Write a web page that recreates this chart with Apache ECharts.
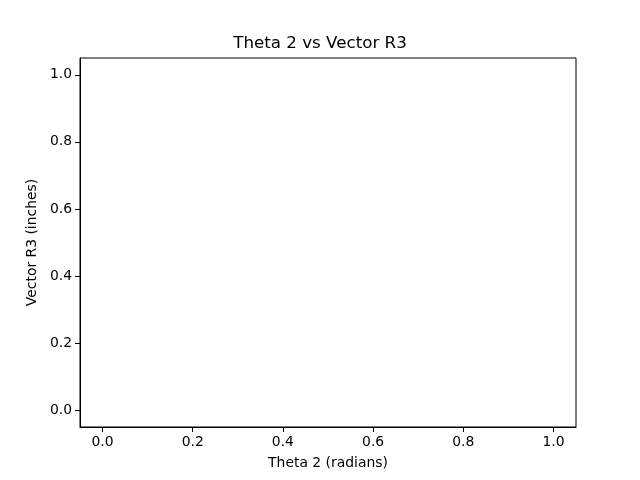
<!DOCTYPE html>
<html>
<head>
<meta charset="utf-8">
<script src="https://cdn.jsdelivr.net/npm/echarts@6/dist/echarts.min.js"></script>
<style>
  html, body { margin: 0; padding: 0; background: #fff; }
  #chart { width: 640px; height: 480px; }
</style>
</head>
<body>
<div id="chart"></div>
<script>
// the plot has no points, only the empty axes
const theta2 = [];
const vectorR3 = [];
const xTicks = [0, 0.2, 0.4, 0.6, 0.8, 1.0];
const yTicks = [0, 0.2, 0.4, 0.6, 0.8, 1.0];

const font = "DejaVu Sans";
const chart = echarts.init(document.getElementById("chart"));

const axisBase = {
  type: "value",
  min: -0.05,
  max: 1.05,
  nameLocation: "middle",
  nameTextStyle: { fontFamily: font, fontSize: 13.9, color: "#000" },
  axisLine: { show: true, onZero: false, lineStyle: { color: "#000", width: 1 } },
  splitLine: { show: false },
};

chart.setOption({
  animation: false,
  backgroundColor: "#fff",
  title: {
    text: "Theta 2 vs Vector R3",
    left: "center",
    top: 30,
    textStyle: { fontFamily: font, fontSize: 16.7, fontWeight: "normal", color: "#000" },
  },
  grid: {
    left: 80,
    right: 64,
    top: 58,
    bottom: 53,
    show: true,
    borderColor: "#000",
    borderWidth: 1,
    backgroundColor: "transparent",
  },
  xAxis: {
    ...axisBase,
    name: "Theta 2 (radians)",
    nameGap: 29,
    axisTick: { show: true, inside: false, customValues: xTicks, length: 5, lineStyle: { color: "#000" } },
    axisLabel: {
      customValues: xTicks,
      fontFamily: font,
      fontSize: 13.9,
      color: "#000",
      margin: 8,
      formatter: (v) => v.toFixed(1),
    },
  },
  yAxis: {
    ...axisBase,
    name: "Vector R3 (inches)",
    nameGap: 38,
    axisTick: { show: true, inside: false, customValues: yTicks, length: 5, lineStyle: { color: "#000" } },
    axisLabel: {
      customValues: yTicks,
      fontFamily: font,
      fontSize: 13.9,
      color: "#000",
      margin: 8,
      formatter: (v) => v.toFixed(1),
    },
  },
  series: [
    {
      type: "line",
      data: theta2.map((t, i) => [t, vectorR3[i]]),
      showSymbol: false,
      lineStyle: { color: "#1f77b4" },
    },
  ],
});
</script>
</body>
</html>
